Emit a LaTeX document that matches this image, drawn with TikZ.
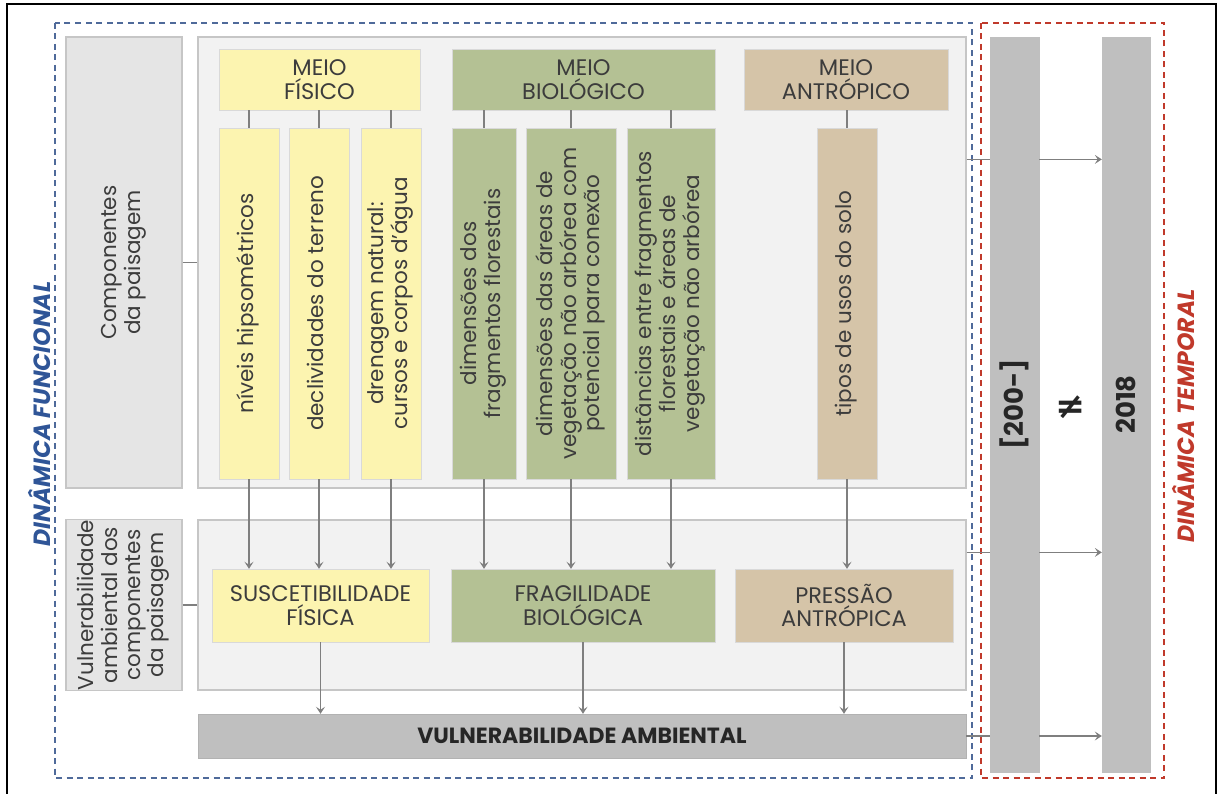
\documentclass[tikz,border=0pt]{standalone}
\usepackage{fontspec}
\setmainfont{Poppins}
\newfontfamily\dejavusans{DejaVu Sans}
\usepackage{xcolor}
\usepackage{tikz}
\usetikzlibrary{positioning,arrows.meta,calc}

\definecolor{panelgray}{HTML}{F2F2F2}
\definecolor{panelline}{HTML}{C6C6C6}
\definecolor{sidegray}{HTML}{E5E5E5}
\definecolor{fisyellow}{HTML}{FCF4B0}
\definecolor{biogreen}{HTML}{B4C194}
\definecolor{anttan}{HTML}{D5C4A8}
\definecolor{bargray}{HTML}{BFBFBF}
\definecolor{linegray}{HTML}{7F7F7F}
\definecolor{textgray}{HTML}{3C3C3C}
\definecolor{funcblue}{HTML}{2F5597}
\definecolor{dashblue}{HTML}{4F6A9A}
\definecolor{tempred}{HTML}{C0392B}

\newcommand{\vtext}[1]{\rotatebox{90}{\begin{tabular}{@{}c@{}}#1\end{tabular}}}

\begin{document}
\begin{tikzpicture}[
    x=1pt, y=-1pt,
    panel/.style={rectangle, draw=panelline, fill=panelgray, line width=1.2pt, inner sep=0pt},
    sidebox/.style={rectangle, draw=panelline, fill=sidegray, line width=1.2pt, inner sep=0pt, text=textgray, font=\fontsize{21.5}{23}\selectfont},
    headbox/.style={rectangle, draw=black!15, inner sep=0pt, text=textgray, align=center, font=\fontsize{22.5}{23.5}\selectfont},
    itembox/.style={headbox, font=\fontsize{21.5}{23.5}\selectfont},
    fis/.style={fill=fisyellow},
    bio/.style={fill=biogreen},
    ant/.style={fill=anttan},
    bar/.style={rectangle, draw=black!25, fill=bargray, inner sep=0pt, text=black!85, font=\bfseries\fontsize{26}{28}\selectfont},
    link/.style={draw=linegray, line width=1.2pt},
    arrow/.style={draw=linegray, line width=1.2pt, -{Stealth[length=7pt,width=9pt,inset=3pt]}},
    frame/.style={line width=1.6pt, dash pattern=on 6pt off 4.5pt},
    dyntitle/.style={rotate=90, font=\bfseries\itshape\fontsize{23.5}{25}\selectfont}
]
\useasboundingbox (0,0) rectangle (1218,794);

% Outer frame
\draw[line width=2.5pt] (7,800) -- (7,4) -- (1216,4) -- (1216,800);

% Panels
\node[sidebox, minimum width=116, minimum height=451] (comp) at (124,262.5) {\vtext{Componentes\\da paisagem}};
\node[panel, minimum width=768, minimum height=451] (topp) at (582,262.5) {};
\node[sidebox, minimum width=116, minimum height=170] (vcomp) at (124,605) {\vtext{Vulnerabilidade\\ambiental dos\\componentes\\da paisagem}};
\node[panel, minimum width=768, minimum height=170] (midp) at (582,605) {};

% Meios
\node[headbox, fis, minimum width=201, minimum height=61] (mfis) at (319.5,79.5) {MEIO\\FÍSICO};
\node[headbox, bio, minimum width=263, minimum height=61] (mbio) at (583.5,79.5) {MEIO\\BIOLÓGICO};
\node[headbox, ant, minimum width=204, minimum height=61] (mant) at (846,79.5) {MEIO\\ANTRÓPICO};

% Components
\node[itembox, fis, minimum width=60, minimum height=351] (niv) at (249,303.5) {\vtext{níveis hipsométricos}};
\node[itembox, fis, minimum width=60, minimum height=351] (decl) at (319,303.5) {\vtext{declividades do terreno}};
\node[itembox, fis, minimum width=60, minimum height=351] (dren) at (391,303.5) {\vtext{drenagem natural:\\cursos e corpos d'água}};
\node[itembox, bio, minimum width=64, minimum height=351] (dfrag) at (484,303.5) {\vtext{dimensões dos\\fragmentos florestais}};
\node[itembox, bio, minimum width=90, minimum height=351] (dareas) at (571,303.5) {\vtext{dimensões das áreas de\\vegetação não arbórea com\\potencial para conexão}};
\node[itembox, bio, minimum width=88, minimum height=351] (dist) at (671,303.5) {\vtext{distâncias entre fragmentos\\florestais e áreas de\\vegetação não arbórea}};
\node[itembox, ant, minimum width=60, minimum height=351] (usos) at (847,303.5) {\vtext{tipos de usos do solo}};

% Synthesis
\node[headbox, fis, minimum width=217, minimum height=73] (susc) at (320.5,605.5) {SUSCETIBILIDADE\\FÍSICA};
\node[headbox, bio, minimum width=264, minimum height=73] (frag) at (583,605.5) {FRAGILIDADE\\BIOLÓGICA};
\node[headbox, ant, minimum width=218, minimum height=73] (pres) at (844,605.5) {PRESSÃO\\ANTRÓPICA};
\node[bar, draw=black!30, font=\bfseries\fontsize{22}{24}\selectfont, minimum width=768, minimum height=44] (vamb) at (582,736) {VULNERABILIDADE AMBIENTAL};

% Time bars
\node[bar, minimum width=49, minimum height=735] (b200) at (1014.5,404.5) {\rotatebox{90}{[200-]}};
\node[bar, minimum width=48, minimum height=735] (b2018) at (1126,404.5) {\rotatebox{90}{2018}};
\node[text=black!85, font=\dejavusans\bfseries\fontsize{36}{36}\selectfont] (neq) at (1071,407) {≠};

% Dashed frames
\draw[frame, draw=dashblue] (55,23) rectangle (972,778);
\draw[frame, draw=tempred] (981,23) rectangle (1164,778);
\node[dyntitle, text=funcblue] (tfunc) at (40,414) {DINÂMICA FUNCIONAL};
\node[dyntitle, text=tempred] (ttemp) at (1183,416) {DINÂMICA TEMPORAL};

% Connectors
\draw[link] (comp.east) -- (topp.west);
\draw[link] (vcomp.east) -- (midp.west);
\foreach \n in {niv,decl,dren} \draw[link] (mfis.south -| \n) -- (\n.north);
\foreach \n in {dfrag,dareas,dist} \draw[link] (mbio.south -| \n) -- (\n.north);
\draw[link] (mant.south -| usos) -- (usos.north);
\foreach \n in {niv,decl,dren} \draw[arrow] (\n.south) -- (\n.south |- susc.north);
\foreach \n in {dfrag,dareas,dist} \draw[arrow] (\n.south) -- (\n.south |- frag.north);
\draw[arrow] (usos.south) -- (usos.south |- pres.north);
\draw[arrow] (susc.south) -- (susc.south |- vamb.north);
\draw[arrow] (frag.south) -- (frag.south |- vamb.north);
\draw[arrow] (pres.south) -- (pres.south |- vamb.north);

% Time links
\coordinate (t1) at ($(topp.north east)+(0,123)$);
\coordinate (t2) at ($(midp.north east)+(0,33)$);
\coordinate (t3) at (vamb.east);
\foreach \t in {t1,t2,t3} {
  \draw[link] (\t) -- (\t -| b200.west);
  \draw[arrow] (\t -| b200.east) -- (\t -| b2018.west);
}

\end{tikzpicture}
\end{document}
